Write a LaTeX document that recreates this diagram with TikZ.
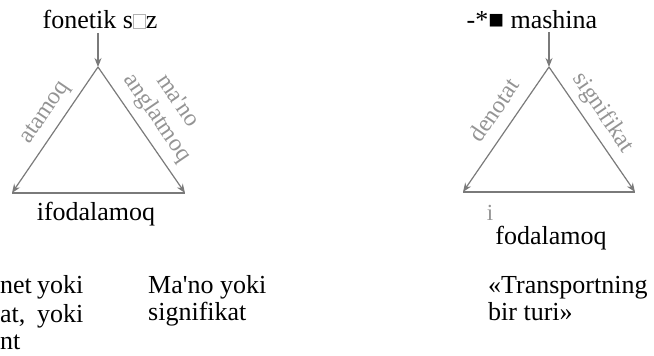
\documentclass[tikz,border=0pt]{standalone}
\usepackage{fontspec}
\setmainfont{Liberation Serif}
\usetikzlibrary{arrows.meta}

% small empty box standing in for a missing letter
\newcommand{\lostglyph}{{\color{black!30}\fboxsep=0pt\fboxrule=0.6pt\fbox{\rule{0pt}{0.5em}\hspace{0.45em}}}}

\begin{document}
\begin{tikzpicture}[x=1pt,y=-1pt,
  edge/.style={draw=black!52, line width=1.2pt},
  tipped/.style={edge, -{Stealth[length=9pt,width=7pt]}},
  word/.style={font=\fontsize{26}{27.5}\selectfont, inner sep=0pt, anchor=base},
  colword/.style={word, anchor=base west},
  lbl/.style={font=\fontsize{24}{24}\selectfont, text=black!42, inner sep=0pt}]
\useasboundingbox (0,0) rectangle (654,356);

% ---- left triangle: fonetik so'z ----
\coordinate (apexA) at (98,67);
\coordinate (leftA) at (12,193);
\coordinate (rightA) at (185,193);
\node[word] (topA) at (100,28) {fonetik s\lostglyph z};
\draw[tipped, shorten <=4pt] (topA.south -| apexA) -- (apexA);
\draw[tipped] (apexA) -- (leftA);
\draw[tipped] (apexA) -- (rightA);
\draw[edge] (leftA) -- (rightA);
\node[lbl, rotate=55.7] (atamoq) at (46,113) {atamoq};
\node[lbl, rotate=-55.7] (anglat) at (157,118) {anglatmoq};
\node[lbl, rotate=-55.7] (mano) at (179,100) {ma\textquotesingle no};
\node[word] (ifoda) at (96,220) {ifodalamoq};

% ---- right triangle: mashina ----
\coordinate (apexB) at (549,67);
\coordinate (leftB) at (463,192);
\coordinate (rightB) at (635,192);
\node[word] (topB) at (532,28) {-*■ mashina};
\draw[tipped, shorten <=4pt] (topB.south -| apexB) -- (apexB);
\draw[tipped] (apexB) -- (leftB);
\draw[tipped] (apexB) -- (rightB);
\draw[edge] (leftB) -- (rightB);
\node[lbl, rotate=55.7] (denotat) at (494,110) {denotat};
\node[lbl, rotate=-55.7] (signif) at (603,113) {signifikat};
\node[lbl, font=\fontsize{23}{23}\selectfont, anchor=base] (stray) at (490,220) {i};
\node[word] (foda) at (551,244) {fodalamoq};

% ---- captions below ----
\node[colword] (c1a) at (0,293) {net};
\node[colword] (c1b) at (37,293) {yoki};
\node[colword] (c2a) at (0,322) {at,};
\node[colword] (c2b) at (37,322) {yoki};
\node[colword] (c3a) at (0,349) {nt};
\node[colword] (m1) at (148,293) {Ma\textquotesingle no yoki};
\node[colword] (m2) at (148,320) {signifikat};
\node[colword] (t1) at (488,293) {«Transportning};
\node[colword] (t2) at (488,320) {bir turi»};
\end{tikzpicture}
\end{document}
